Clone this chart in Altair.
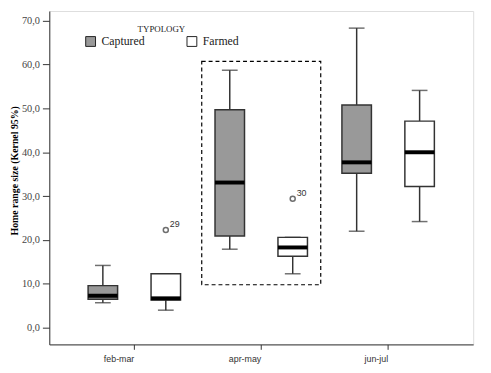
import altair as alt
import pandas as pd

periods = ["feb-mar", "apr-may", "jun-jul"]
typologies = ["Captured", "Farmed"]

# box-plot statistics (Captured, Farmed per period)
whisker_low = {"Captured": [5.7, 17.9, 22.0], "Farmed": [4.0, 12.3, 24.2]}
q1 = {"Captured": [6.5, 20.9, 35.2], "Farmed": [6.3, 16.3, 32.2]}
median = {"Captured": [7.3, 33.1, 37.7], "Farmed": [6.7, 18.3, 40.0]}
q3 = {"Captured": [9.6, 49.7, 50.8], "Farmed": [12.3, 20.6, 47.1]}
whisker_high = {"Captured": [14.2, 58.7, 68.3], "Farmed": [12.3, 20.6, 54.1]}

outlier_period = ["feb-mar", "apr-may"]
outlier_typology = ["Farmed", "Farmed"]
outlier_value = [22.3, 29.4]
outlier_label = ["29", "30"]

highlight_period = ["apr-may"]
highlight_low = [9.8]
highlight_high = [60.7]

rows = []
for t in typologies:
    for i, p in enumerate(periods):
        rows.append({"period": p, "typology": t, "lo": whisker_low[t][i], "q1": q1[t][i],
                     "med": median[t][i], "q3": q3[t][i], "hi": whisker_high[t][i]})
df = pd.DataFrame(rows)
out_df = pd.DataFrame({"period": outlier_period, "typology": outlier_typology,
                       "value": outlier_value, "label": outlier_label})
hl_df = pd.DataFrame({"period": highlight_period, "lo": highlight_low, "hi": highlight_high})

Y_DOMAIN = [-3.8, 72.2]
serif = "Liberation Serif"
sans = "Liberation Sans"
dark = "#333333"

x_enc = alt.X("period:N", sort=periods,
              scale=alt.Scale(paddingInner=0, paddingOuter=0.17),
              axis=alt.Axis(title=None, labelAngle=0, labelFont=sans, labelFontSize=9,
                            labelColor=dark, tickSize=5, tickColor=dark, domainColor=dark,
                            labelPadding=9, grid=False))
xo_enc = alt.XOffset("typology:N", sort=typologies,
                     scale=alt.Scale(paddingInner=0.5, paddingOuter=0.258))
y_scale = alt.Scale(domain=Y_DOMAIN, nice=False, zero=False)

base = alt.Chart(df).encode(x=x_enc, xOffset=xo_enc)

whisk_low = base.mark_rule(color=dark, strokeWidth=1.5).encode(
    y=alt.Y("lo:Q", scale=y_scale,
            axis=alt.Axis(title="Home range size (Kernel 95%)", values=list(range(0, 71, 10)),
                          labelExpr="replace(format(datum.value, '.1f'), '.', ',')",
                          labelFont=serif, labelFontSize=10.5, labelColor="#444444",
                          tickSize=7, tickColor=dark, domainColor=dark, grid=False,
                          titleFont=serif, titleFontSize=10, titleFontWeight="bold",
                          titleColor="#000000", titleX=-35, titleY=162, titleAngle=-90,
                          titleBaseline="middle", titleAlign="center", labelPadding=3)),
    y2="q1:Q")
whisk_high = base.mark_rule(color=dark, strokeWidth=1.5).encode(y=alt.Y("q3:Q", scale=y_scale), y2="hi:Q")
cap_low = base.mark_tick(color=dark, size=16, thickness=1.5).encode(y=alt.Y("lo:Q", scale=y_scale))
cap_high = base.mark_tick(color=dark, size=16, thickness=1.5).encode(y=alt.Y("hi:Q", scale=y_scale))
boxes = base.mark_bar(width=30, stroke=dark, strokeWidth=1.5).encode(
    y=alt.Y("q1:Q", scale=y_scale), y2="q3:Q",
    fill=alt.Fill("typology:N", sort=typologies,
                  scale=alt.Scale(domain=typologies, range=["#999999", "#ffffff"]),
                  legend=alt.Legend(orient="none", legendX=36, legendY=14, direction="horizontal",
                                    title="TYPOLOGY", titleFont=serif, titleFontSize=9,
                                    titleFontWeight="normal", titleColor="#222222",
                                    titleAnchor="middle", titlePadding=2,
                                    labelFont=serif, labelFontSize=12, labelColor="#222222",
                                    symbolType="square", symbolSize=100, symbolStrokeColor="#222222",
                                    symbolStrokeWidth=1, columnPadding=41, labelOffset=5, padding=0)))
medians = base.mark_tick(color="#000000", size=30, thickness=4, opacity=1).encode(y=alt.Y("med:Q", scale=y_scale))

out_base = alt.Chart(out_df).encode(x=alt.X("period:N", sort=periods), xOffset=alt.XOffset("typology:N", sort=typologies),
                                    y=alt.Y("value:Q", scale=y_scale))
out_pts = out_base.mark_point(shape="circle", filled=False, size=26, color=dark, strokeWidth=1.5)
out_txt = out_base.mark_text(align="left", baseline="bottom", dx=4, dy=-1, font=sans, fontSize=9,
                             color=dark).encode(text="label:N")

highlight = alt.Chart(hl_df).mark_bar(width=121, fillOpacity=0, fill="white", stroke="#000000",
                                      strokeDash=[4, 3], strokeWidth=1.2).encode(
    x=alt.X("period:N", sort=periods), y=alt.Y("lo:Q", scale=y_scale), y2="hi:Q")

chart = alt.layer(highlight, whisk_low, whisk_high, cap_low, cap_high, boxes, medians, out_pts, out_txt).properties(
    width=431, height=339,
    autosize=alt.AutoSizeParams(type="none"),
    padding={"left": 42, "top": 0, "right": 10, "bottom": 25},
).configure_view(stroke="#aaaaaa", strokeWidth=1).configure_legend(
    labelFont=serif, titleFont=serif
).configure(background="white")

chart.save("out.html", embed_options={"renderer": "svg", "actions": False})
